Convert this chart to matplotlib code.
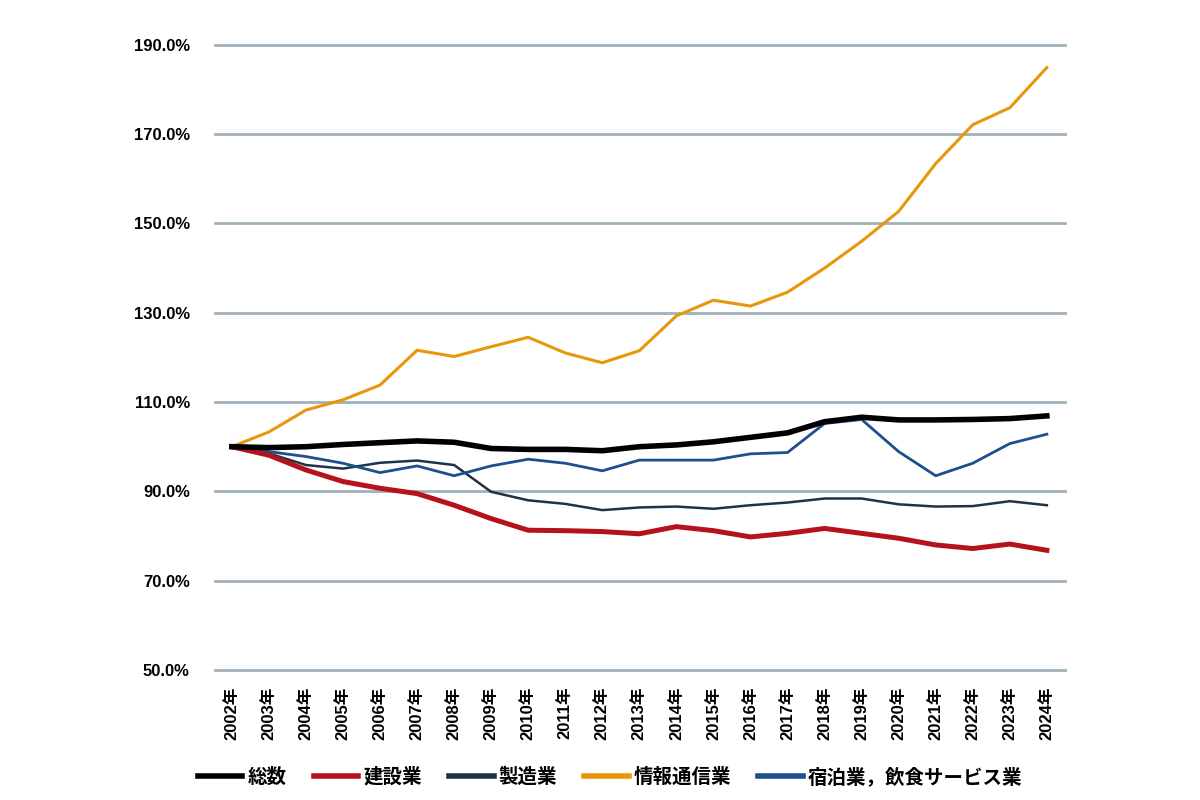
import matplotlib
matplotlib.use("Agg")
import matplotlib.pyplot as plt
from matplotlib.ticker import FuncFormatter

plt.rcParams['font.family'] = ['Liberation Sans', 'Noto Sans CJK JP', 'DejaVu Sans']

years = [f"{y}年" for y in range(2002, 2025)]

total = [100, 99.8, 100.0, 100.5, 100.9, 101.3, 101.0, 99.6, 99.4, 99.4, 99.1, 100.0,
         100.4, 101.1, 102.1, 103.1, 105.6, 106.6, 106.0, 106.0, 106.1, 106.3, 106.9]
construction = [100, 98.1, 94.8, 92.2, 90.7, 89.5, 86.9, 83.9, 81.3, 81.2, 81.0, 80.5,
                82.1, 81.2, 79.8, 80.6, 81.7, 80.6, 79.5, 78.0, 77.2, 78.2, 76.8]
manufacturing = [100, 98.5, 95.9, 95.1, 96.4, 96.9, 95.9, 89.9, 88.0, 87.2, 85.8, 86.4,
                 86.6, 86.1, 86.9, 87.5, 88.4, 88.4, 87.1, 86.6, 86.7, 87.8, 86.9]
infocomm = [100, 103.3, 108.2, 110.5, 113.8, 121.6, 120.2, 122.4, 124.5, 121.0, 118.8, 121.5,
            129.3, 132.8, 131.5, 134.6, 140.0, 146.0, 152.7, 163.4, 172.1, 175.9, 184.9]
hospitality = [100, 98.9, 97.8, 96.3, 94.2, 95.7, 93.5, 95.7, 97.2, 96.3, 94.6, 97.0,
               97.0, 97.0, 98.4, 98.7, 105.2, 106.1, 98.9, 93.5, 96.3, 100.7, 102.8]

series_names = ["総数", "建設業", "製造業", "情報通信業", "宿泊業，飲食サービス業"]

fig = plt.figure(figsize=(12, 8), dpi=100)
ax = fig.add_axes([0.179, 0.1625, 0.7085, 0.7815])

x = list(range(len(years)))
ax.plot(x, total, color="#000000", lw=4.0, label=series_names[0], zorder=6)
ax.plot(x, construction, color="#b5121b", lw=3.6, label=series_names[1], zorder=5)
ax.plot(x, manufacturing, color="#1e3446", lw=1.8, label=series_names[2], zorder=4)
ax.plot(x, infocomm, color="#e8960c", lw=2.2, label=series_names[3], zorder=4)
ax.plot(x, hospitality, color="#1d4f8f", lw=2.0, label=series_names[4], zorder=4)

ax.set_ylim(50, 190)
ax.set_yticks([50, 70, 90, 110, 130, 150, 170, 190])
ax.yaxis.set_major_formatter(FuncFormatter(lambda v, p: f"{v:.1f}%"))
ax.set_xlim(-0.46, 22.49)
ax.set_xticks(x)
ax.set_xticklabels(years, rotation=90, fontsize=12, fontweight='bold',
                   family=['Liberation Sans', 'Noto Sans CJK JP'])
for lbl in ax.get_yticklabels():
    lbl.set_fontweight('bold')
    lbl.set_fontsize(12)

ax.grid(axis='y', color="#9fb0ba", lw=2.0)
for gl in ax.yaxis.get_gridlines():
    gl.set_clip_on(False)
ax.set_axisbelow(True)
for s in ax.spines.values():
    s.set_visible(False)
ax.tick_params(axis='x', length=0, pad=12)
ax.tick_params(axis='y', length=0, pad=18)

leg = ax.legend(loc='center', bbox_to_anchor=(0.465, -0.171), ncol=5, frameon=False,
                handlelength=2.3, handletextpad=0.25, columnspacing=1.4,
                prop={'family': ['Noto Sans CJK JP', 'DejaVu Sans'], 'size': 14,
                      'weight': 'bold'})
for h in leg.get_lines():
    h.set_linewidth(4)

fig.savefig("out.png", dpi=100, facecolor="white")
